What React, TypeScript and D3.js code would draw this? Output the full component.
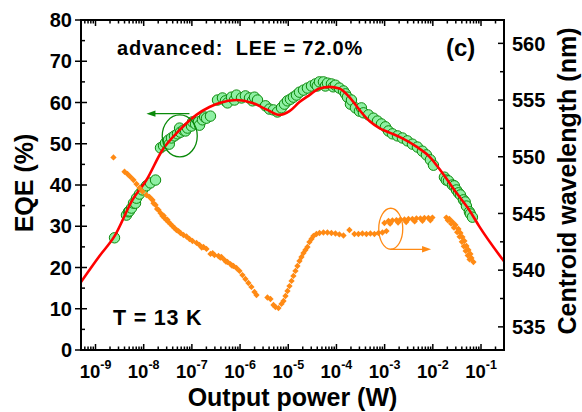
import React from "react";
import * as d3 from "d3";

// ---------- data ----------
// EQE measurement (green circles): output power (W), EQE (%)
const eqePower = [
  2.48e-9, 4.39e-9, 4.83e-9, 5.07e-9, 5.58e-9, 6.14e-9, 6.76e-9, 7.09e-9, 8.18e-9, 9.44e-9, 1.14e-8, 1.38e-8, 1.76e-8,
  2.23e-8, 2.58e-8, 2.83e-8, 3.27e-8, 3.4e-8, 3.77e-8, 4.35e-8, 5.02e-8, 5.55e-8, 5.8e-8, 6.69e-8, 7.4e-8, 8.11e-8, 9.81e-8,
  1.03e-7, 1.19e-7, 1.37e-7, 1.44e-7, 1.66e-7, 1.84e-7, 2.01e-7, 2.43e-7,
  3.4e-7, 4.31e-7, 4.97e-7, 5.48e-7, 6.64e-7, 7.66e-7, 8.42e-7, 1.07e-6, 1.29e-6, 1.57e-6, 1.81e-6, 1.99e-6, 2.3e-6,
  3.37e-6, 4.07e-6, 4.93e-6, 5.97e-6, 7.23e-6, 8.34e-6, 9.62e-6, 1.11e-5, 1.28e-5, 1.48e-5,
  1.71e-5, 2.07e-5, 2.5e-5, 3.03e-5, 3.66e-5, 4.0e-5, 4.44e-5, 5.37e-5, 5.9e-5, 6.5e-5, 7.87e-5, 8.6e-5, 9.53e-5,
  1.15e-4, 1.4e-4, 1.54e-4, 1.69e-4, 1.95e-4, 2.05e-4, 2.48e-4, 3.0e-4, 3.3e-4, 3.63e-4, 4.61e-4, 5.86e-4, 7.1e-4, 8.59e-4,
  1.04e-3, 1.2e-3, 1.45e-3, 1.85e-3, 2.34e-3, 2.97e-3, 3.78e-3, 4.79e-3, 6.08e-3, 7.36e-3, 8.91e-3, 1.03e-2,
  1.74e-2, 1.9e-2, 2.11e-2, 2.55e-2, 2.8e-2, 3.09e-2, 3.4e-2, 3.74e-2, 4.32e-2, 4.7e-2, 4.98e-2, 5.74e-2, 6.0e-2, 6.63e-2,
];
const eqeValue = [
  27.2, 32.7, 33.5, 33.7, 34.4, 35.6, 35.6, 36.8, 37.8, 38.8, 39.8, 40.5, 41.2,
  49.0, 49.5, 50.2, 50.9, 49.9, 51.4, 51.9, 52.4, 53.8, 52.8, 53.3, 53.1, 53.8, 54.3,
  55.3, 54.8, 55.3, 54.5, 55.8, 56.5, 56.2, 56.7,
  60.6, 61.1, 60.4, 59.9, 61.3, 60.6, 61.8, 61.1, 61.6, 61.1, 60.4, 61.3, 60.6,
  59.2, 58.4, 58.2, 57.7, 58.7, 59.6, 60.4, 60.8, 61.3, 61.8,
  62.5, 63.0, 63.5, 64.0, 64.5, 64.0, 65.0, 65.0, 64.0, 64.7, 64.5, 63.8, 64.2,
  63.5, 62.8, 62.1, 61.3, 59.6, 60.6, 58.7, 57.9, 58.7, 57.5, 57.0, 56.2, 55.5, 54.8,
  54.1, 53.1, 52.4, 51.9, 51.4, 50.7, 49.9, 49.2, 48.2, 47.3, 46.1, 44.8,
  41.9, 41.2, 41.0, 40.0, 39.8, 38.8, 38.1, 37.6, 36.4, 35.9, 34.9, 33.5, 33.0, 32.2,
];

// Fitted EQE curve (red)
const fitPower = [
  5e-10, 1.21e-9, 2.48e-9, 5.86e-9, 1.14e-8, 2.45e-8, 5.53e-8, 1.24e-7, 2.32e-7, 3.74e-7, 8.42e-7, 1.81e-6, 3.7e-6,
  6.56e-6, 1.06e-5, 1.71e-5, 2.75e-5, 4.44e-5, 7.16e-5, 1.15e-4, 1.86e-4, 3.0e-4, 4.84e-4, 7.8e-4, 1.26e-3, 2.34e-3,
  4.57e-3, 8.49e-3, 1.58e-2, 3.09e-2, 5.74e-2, 9.27e-2, 3e-1,
];
const fitEqe = [
  16.5, 22.8, 27.6, 36.4, 41.2, 48.5, 53.3, 57.0, 58.9, 59.9, 60.6, 59.9, 58.2,
  57.0, 57.9, 60.1, 61.8, 63.4, 63.8, 63.4, 61.3, 58.2, 55.5, 53.8, 52.7, 51.3,
  49.3, 46.9, 42.9, 38.1, 33.9, 29.9, 21.5,
];

// Centroid wavelength (orange diamonds): output power (W), wavelength (nm)
const wlPower = [
  2.36e-9, 4.0e-9, 4.61e-9, 5.32e-9, 6.14e-9, 7.09e-9, 8.18e-9, 9.43e-9, 1.14e-8, 1.32e-8, 1.52e-8, 1.76e-8, 2.03e-8,
  2.23e-8, 2.45e-8, 2.7e-8, 2.97e-8, 3.27e-8, 3.6e-8, 3.96e-8, 4.35e-8, 4.79e-8, 5.27e-8, 5.8e-8, 6.69e-8, 7.73e-8,
  8.92e-8, 1.03e-7, 1.25e-7, 1.44e-7, 1.74e-7, 2.01e-7, 2.43e-7, 2.94e-7, 3.56e-7, 4.11e-7, 4.74e-7, 5.48e-7, 6.32e-7,
  7.29e-7, 8.42e-7, 9.72e-7, 1.12e-6, 1.29e-6, 1.49e-6, 1.72e-6, 1.99e-6, 2.19e-6, 3.7e-6, 4.27e-6, 4.93e-6, 5.43e-6,
  6.27e-6, 7.23e-6, 7.96e-6, 8.76e-6, 9.64e-6, 1.06e-5, 1.17e-5, 1.28e-5, 1.41e-5, 1.55e-5, 1.71e-5, 1.88e-5, 2.07e-5,
  2.27e-5, 2.5e-5, 2.75e-5, 3.03e-5, 3.33e-5, 3.84e-5, 4.44e-5, 5.37e-5, 6.5e-5, 7.87e-5, 9.53e-5, 1.15e-4, 1.4e-4,
  1.86e-4, 2.36e-4, 2.86e-4, 3.46e-4, 4.19e-4, 5.07e-4, 6.14e-4, 7.44e-4, 9.0e-4, 1.09e-3,
  9.9e-4, 1.2e-3, 1.45e-3, 1.76e-3, 2.13e-3, 2.58e-3, 3.12e-3, 3.77e-3, 4.57e-3, 5.53e-3, 6.69e-3, 8.1e-3, 9.8e-3,
  1.3e-3, 1.9e-3, 2.8e-3, 4.2e-3, 6.1e-3, 8.9e-3,
  1.91e-2, 2.21e-2, 2.55e-2, 2.94e-2, 3.4e-2, 3.74e-2, 4.11e-2, 4.52e-2, 4.98e-2, 5.48e-2, 6.02e-2, 6.32e-2, 6.96e-2,
  2.05e-2, 2.4e-2, 2.75e-2, 3.2e-2, 3.6e-2, 4.0e-2, 4.4e-2, 4.8e-2, 5.3e-2, 5.8e-2,
  1.6e-8, 1.9e-8, 2.6e-8, 3.1e-8, 1.6e-7, 2.7e-7, 3.9e-7, 5.1e-7, 6.8e-7,
];
const wlValue = [
  549.94, 548.68, 548.48, 548.22, 547.95, 547.6, 547.25, 546.94, 546.63, 546.45, 546.19, 545.75, 545.31,
  545.04, 544.78, 544.6, 544.42, 544.25, 544.07, 543.89, 543.72, 543.54, 543.45, 543.28, 543.1, 542.97,
  542.75, 542.57, 542.4, 542.22, 542.04, 541.87, 541.43, 541.34, 541.25, 541.16, 540.9, 540.72, 540.54,
  540.37, 540.19, 539.93, 539.57, 539.22, 538.87, 538.52, 538.08, 537.81, 537.59, 537.46, 536.93, 536.75,
  536.66, 537.02, 537.28, 537.72, 538.16, 538.6, 539.05, 539.49, 539.93, 540.37, 540.81, 541.16, 541.51,
  541.78, 542.04, 542.48, 542.75, 543.01, 543.19, 543.28, 543.32, 543.32, 543.28, 543.23, 543.15, 543.06,
  543.54, 543.19, 543.19, 543.23, 543.19, 543.23, 543.19, 543.28, 543.32, 543.45,
  544.16, 544.34, 544.38, 544.42, 544.47, 544.47, 544.51, 544.51, 544.56, 544.56, 544.6, 544.6, 544.64,
  544.1, 544.2, 544.25, 544.3, 544.35, 544.4,
  544.64, 544.51, 544.25, 543.98, 543.63, 543.28, 542.92, 542.57, 542.13, 541.78, 541.43, 541.07, 540.72,
  544.4, 544.1, 543.75, 543.35, 542.95, 542.5, 542.1, 541.7, 541.3, 540.95,
  545.9, 545.4, 544.8, 544.45, 542.0, 541.5, 541.1, 540.75, 540.4,
];

const eqeTicks = [0, 10, 20, 30, 40, 50, 60, 70, 80];
const wlTicks = [535, 540, 545, 550, 555, 560];
const powerExponents = [-9, -8, -7, -6, -5, -4, -3, -2, -1];

// ---------- layout ----------
const W = 582;
const H = 412;
const L = 81, R = 504, T = 20, B = 350;
const FONT = "'Liberation Sans', Arial, Helvetica, sans-serif";
const GREEN_FILL = "#8ff0a4";
const GREEN = "#0a8a0a";
const ORANGE = "#ff8a14";
const RED = "#ff0000";

export default function App() {
  const x = d3.scaleLog().domain([5e-10, 3e-1]).range([L, R]);
  const yL = d3.scaleLinear().domain([0, 80]).range([B, T]);
  const yR = d3.scaleLinear().domain([532.96, 562.06]).range([B, T]);

  const majorX = powerExponents.map((e) => Math.pow(10, e));
  const minorX: number[] = [];
  for (let e = -10; e <= -1; e++) {
    for (let m = 2; m <= 9; m++) {
      const v = m * Math.pow(10, e);
      if (v >= 5e-10 && v <= 3e-1) minorX.push(v);
    }
  }
  const minorL = d3.range(5, 80, 10);
  const minorR = [537.5, 542.5, 547.5, 552.5, 557.5];

  const fitLine = d3
    .line<number>()
    .x((_, i) => x(fitPower[i]))
    .y((d) => yL(d))
    .curve(d3.curveMonotoneX)(fitEqe) as string;

  const diamond = d3.symbol(d3.symbolSquare, 20)() as string;

  // annotation anchors (data coordinates)
  const gEll = { cx: x(5.6e-8), cy: yL(51.9) };
  const gArrowY = yL(57.3);
  const gArrowX0 = x(8.9e-8);
  const gArrowX1 = x(1.14e-8);
  const oEll = { cx: x(1.34e-3), cy: yR(543.65) };
  const oArrowY = yR(541.84);
  const oArrowX1 = x(9.2e-3);

  return (
    <svg
      width={W}
      height={H}
      style={{ position: "absolute", left: 0, top: 0, background: "#fff" }}
      fontFamily={FONT}
      fontWeight="bold"
    >
      <defs>
        <clipPath id="plot">
          <rect x={L} y={T} width={R - L} height={B - T} />
        </clipPath>
      </defs>

      {/* data */}
      <g>
        {eqePower.map((p, i) => (
          <circle
            key={"c" + i}
            cx={x(p)}
            cy={yL(eqeValue[i])}
            r={5.2}
            fill={GREEN_FILL}
            stroke={GREEN}
            strokeWidth={1}
          />
        ))}
      </g>
      <path d={fitLine} fill="none" stroke={RED} strokeWidth={2.6} clipPath="url(#plot)" />
      <g>
        {wlPower.map((p, i) => (
          <path
            key={"d" + i}
            d={diamond}
            transform={`translate(${x(p)},${yR(wlValue[i])}) rotate(45)`}
            fill={ORANGE}
          />
        ))}
      </g>

      {/* annotations */}
      <ellipse cx={gEll.cx} cy={gEll.cy} rx={17.5} ry={21} fill="none" stroke={GREEN} strokeWidth={1.3} />
      <line x1={gArrowX0} y1={gArrowY} x2={gArrowX1 + 7} y2={gArrowY} stroke={GREEN} strokeWidth={1.3} />
      <polygon
        points={`${gArrowX1},${gArrowY} ${gArrowX1 + 9},${gArrowY - 3.2} ${gArrowX1 + 9},${gArrowY + 3.2}`}
        fill={GREEN}
      />
      <ellipse cx={oEll.cx} cy={oEll.cy} rx={12} ry={20.5} fill="none" stroke={ORANGE} strokeWidth={1.3} />
      <line x1={oEll.cx} y1={oArrowY} x2={oArrowX1 - 7} y2={oArrowY} stroke={ORANGE} strokeWidth={1.3} />
      <polygon
        points={`${oArrowX1},${oArrowY} ${oArrowX1 - 9},${oArrowY - 3.2} ${oArrowX1 - 9},${oArrowY + 3.2}`}
        fill={ORANGE}
      />

      {/* frame */}
      <rect x={L} y={T} width={R - L} height={B - T} fill="none" stroke="#000" strokeWidth={2} />

      {/* ticks */}
      <g stroke="#000" strokeWidth={1.5}>
        {majorX.map((v, i) => (
          <g key={"mx" + i}>
            <line x1={x(v)} x2={x(v)} y1={B} y2={B - 6} />
            <line x1={x(v)} x2={x(v)} y1={T} y2={T + 6} />
          </g>
        ))}
        {minorX.map((v, i) => (
          <g key={"nx" + i}>
            <line x1={x(v)} x2={x(v)} y1={B} y2={B - 3.5} />
            <line x1={x(v)} x2={x(v)} y1={T} y2={T + 3.5} />
          </g>
        ))}
        {eqeTicks.map((v, i) => (
          <line key={"ml" + i} x1={L - 6} x2={L + 6} y1={yL(v)} y2={yL(v)} />
        ))}
        {minorL.map((v, i) => (
          <line key={"nl" + i} x1={L} x2={L + 4} y1={yL(v)} y2={yL(v)} />
        ))}
        {wlTicks.map((v, i) => (
          <line key={"mr" + i} x1={R} x2={R - 6} y1={yR(v)} y2={yR(v)} />
        ))}
        {minorR.map((v, i) => (
          <line key={"nr" + i} x1={R} x2={R - 4} y1={yR(v)} y2={yR(v)} />
        ))}
      </g>

      {/* tick labels */}
      <g fontSize={20} fill="#000">
        {eqeTicks.map((v, i) => (
          <text key={"tl" + i} x={L - 9} y={yL(v) + 7.2} textAnchor="end">
            {v}
          </text>
        ))}
        {wlTicks.map((v, i) => (
          <text key={"tr" + i} x={R + 8} y={yR(v) + 7.2} textAnchor="start">
            {v}
          </text>
        ))}
      </g>
      <g fill="#000">
        {powerExponents.map((e, i) => (
          <text key={"tx" + i} x={x(Math.pow(10, e))} y={378} textAnchor="middle" fontSize={18.5}>
            10
            <tspan dy={-9} fontSize={12.5}>
              {String(e)}
            </tspan>
          </text>
        ))}
      </g>

      {/* axis titles */}
      <text x={(L + R) / 2} y={406} textAnchor="middle" fontSize={25}>
        Output power (W)
      </text>
      <text transform={`translate(33,${183}) rotate(-90)`} textAnchor="middle" fontSize={25}>
        EQE (%)
      </text>
      <text transform={`translate(576,${181}) rotate(-90)`} textAnchor="middle" fontSize={25}>
        Centroid wavelength (nm)
      </text>

      {/* in-plot labels */}
      <text x={117} y={55} fontSize={20} letterSpacing={0.8} style={{ whiteSpace: "pre" }}>
        {"advanced:  LEE = 72.0%"}
      </text>
      <text x={446} y={56} fontSize={24}>
        (c)
      </text>
      <text x={113} y={325} fontSize={21.5} letterSpacing={0.8}>
        T = 13 K
      </text>
    </svg>
  );
}
